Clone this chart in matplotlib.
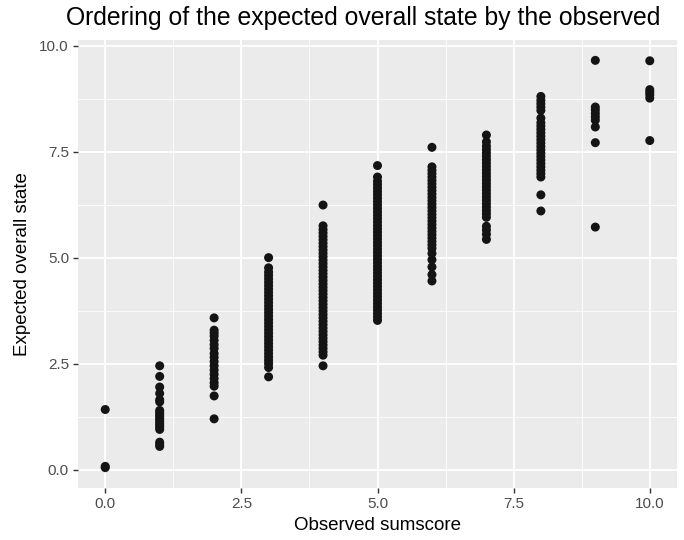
import numpy as np
import matplotlib
matplotlib.use('Agg')
import matplotlib.pyplot as plt
from matplotlib.ticker import MultipleLocator

plt.rcParams['font.family'] = ['Liberation Sans', 'DejaVu Sans']

# ============ DATA ============
sumscore = [0, 1, 2, 3, 4, 5, 6, 7, 8, 9, 10]

expected = {
    0: [0.05, 0.08, 1.42],
    1: [0.55, 0.6, 0.65, 0.95, 1.0, 1.05, 1.1, 1.15, 1.2, 1.25, 1.3, 1.35,
        1.4, 1.6, 1.65, 1.8, 1.95, 2.2, 2.45],
    2: [1.2, 1.74, 1.97, 2.05, 2.15, 2.25, 2.35, 2.45, 2.55, 2.65, 2.74,
        2.86, 2.95, 3.05, 3.15, 3.22, 3.29, 3.58],
    3: [2.19, 2.41, 2.5, 2.58, 2.66, 2.74, 2.82, 2.9, 2.98, 3.06, 3.14, 3.22,
        3.3, 3.38, 3.46, 3.54, 3.62, 3.7, 3.78, 3.86, 3.94, 4.02, 4.1, 4.18,
        4.26, 4.34, 4.42, 4.5, 4.58, 4.66, 4.76, 5.0],
    4: [2.45, 2.7, 2.78, 2.86, 2.94, 3.02, 3.1, 3.18, 3.26, 3.34, 3.42, 3.5,
        3.58, 3.66, 3.74, 3.82, 3.9, 3.98, 4.06, 4.14, 4.22, 4.3, 4.38, 4.46,
        4.54, 4.62, 4.7, 4.78, 4.86, 4.94, 5.02, 5.1, 5.18, 5.26, 5.34, 5.42,
        5.5, 5.58, 5.66, 5.75, 6.24],
    5: [3.52, 3.6, 3.68, 3.76, 3.84, 3.92, 4.0, 4.08, 4.16, 4.24, 4.32, 4.4,
        4.48, 4.56, 4.64, 4.72, 4.8, 4.88, 4.96, 5.04, 5.12, 5.2, 5.28, 5.36,
        5.44, 5.52, 5.6, 5.68, 5.76, 5.84, 5.92, 6.0, 6.08, 6.16, 6.24, 6.32,
        6.4, 6.48, 6.56, 6.64, 6.72, 6.8, 6.9, 7.17],
    6: [4.45, 4.6, 4.78, 4.95, 5.1, 5.22, 5.3, 5.38, 5.46, 5.54, 5.62, 5.7,
        5.78, 5.86, 5.94, 6.02, 6.1, 6.18, 6.26, 6.34, 6.42, 6.5, 6.58, 6.66,
        6.74, 6.82, 6.9, 6.98, 7.06, 7.14, 7.6],
    7: [5.43, 5.55, 5.65, 5.74, 5.95, 6.03, 6.11, 6.19, 6.27, 6.35, 6.43,
        6.51, 6.59, 6.67, 6.75, 6.83, 6.91, 6.99, 7.07, 7.15, 7.23, 7.31,
        7.39, 7.47, 7.55, 7.63, 7.73, 7.89],
    8: [6.1, 6.48, 6.9, 6.98, 7.06, 7.14, 7.22, 7.3, 7.38, 7.46, 7.54, 7.62,
        7.7, 7.78, 7.86, 7.94, 8.02, 8.1, 8.18, 8.29, 8.47, 8.55, 8.63, 8.71,
        8.8],
    9: [5.72, 7.71, 8.08, 8.24, 8.32, 8.4, 8.48, 8.55, 9.65],
    10: [7.76, 8.76, 8.84, 8.9, 8.96, 9.64],
}

xs = np.concatenate([[s] * len(expected[s]) for s in sumscore])
ys = np.concatenate([expected[s] for s in sumscore])

# ============ PLOTTING ============
fig = plt.figure(figsize=(6.84, 5.4), dpi=100)
ax = fig.add_axes([78 / 684, 52 / 540, 599 / 684, 448 / 540])
ax.set_facecolor('#EBEBEB')

ax.scatter(xs, ys, s=42, color='#141414', edgecolors='none', zorder=3)

# ggplot-like 5% expansion
xr = max(xs) - min(xs)
yr = max(ys) - min(ys)
ax.set_xlim(min(xs) - 0.05 * xr, max(xs) + 0.05 * xr)
ax.set_ylim(min(ys) - 0.05 * yr, max(ys) + 0.05 * yr)

ax.xaxis.set_major_locator(MultipleLocator(2.5))
ax.yaxis.set_major_locator(MultipleLocator(2.5))
ax.xaxis.set_minor_locator(MultipleLocator(1.25))
ax.yaxis.set_minor_locator(MultipleLocator(1.25))
ax.xaxis.set_major_formatter(lambda v, p: f'{v:.1f}')
ax.yaxis.set_major_formatter(lambda v, p: f'{v:.1f}')

ax.grid(which='major', color='white', linewidth=1.3, zorder=0)
ax.grid(which='minor', color='white', linewidth=0.6, zorder=0)
ax.set_axisbelow(True)
for sp in ax.spines.values():
    sp.set_visible(False)

ax.tick_params(which='major', length=3.5, width=1, color='#333333',
               labelsize=11, labelcolor='#4D4D4D', pad=3)
ax.tick_params(which='minor', length=0)

ax.set_xlabel('Observed sumscore', fontsize=13.5, color='black', labelpad=4)
ax.set_ylabel('Expected overall state', fontsize=13.5, color='black', labelpad=6)

fig.text(66 / 684, 1 - 18 / 540, 'Ordering of the expected overall state by the observed',
         fontsize=17.8, ha='left', va='center', color='black')

fig.savefig('out.png', dpi=100, facecolor='white')
